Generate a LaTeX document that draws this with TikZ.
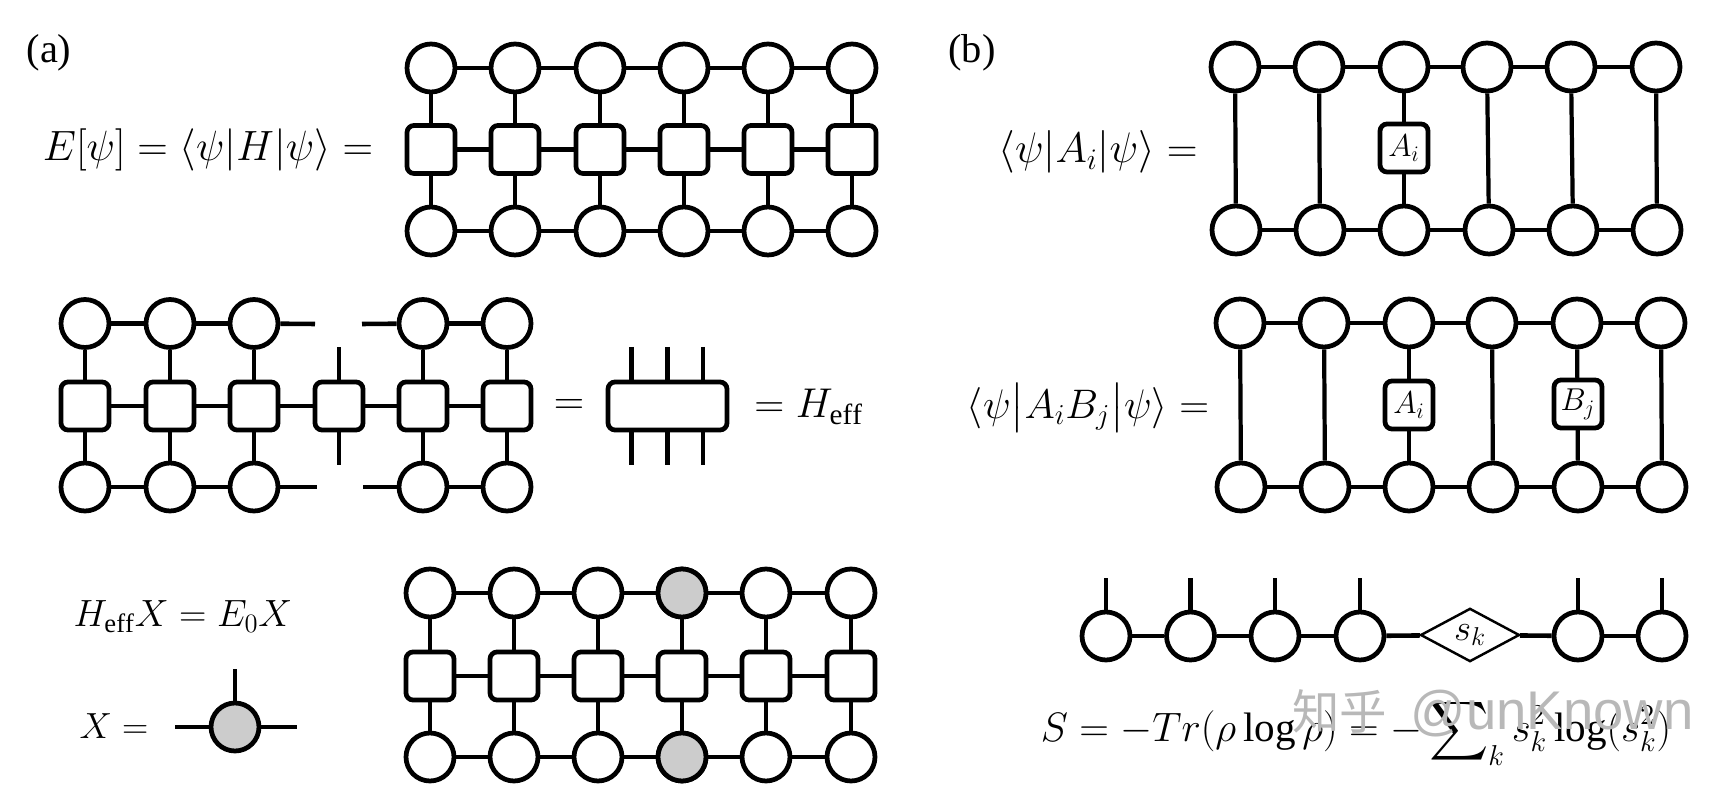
\documentclass[tikz,border=0pt]{standalone}
\usepackage{fix-cm}
\usepackage{amsmath,amssymb}
\usepackage{fontspec}
\usepackage{xcolor}
\usepackage{tikz}
\usetikzlibrary{shapes,positioning}
\setmainfont{Liberation Serif}
\newfontfamily\marksans{Liberation Sans}
\newfontfamily\markcjk{Noto Sans CJK SC}
\definecolor{sitegray}{gray}{0.8}

\begin{document}
\begin{tikzpicture}[
    x=0.02cm, y=-0.02cm,
    site/.style={circle, draw, fill=white, line width=2.7pt, minimum size=0.96cm, inner sep=0pt},
    filled/.style={site, fill=sitegray},
    mpo/.style={rectangle, rounded corners=4pt, draw, fill=white, line width=2.7pt, minimum size=0.96cm, inner sep=0pt, font=\fontsize{18}{20}\selectfont},
    bond/.style={line width=2.6pt},
    leg/.style={line width=2.4pt},
    eqn/.style={font=\fontsize{#1}{30}\selectfont, inner sep=0pt},
    eqn/.default=20.7,
    tag/.style={font=\fontsize{23}{26}\selectfont, inner sep=0pt}
]
\useasboundingbox (0,0) rectangle (1733,786);

\node[tag] (taga) at (49,53) {(a)};
\node[tag] (tagb) at (972,53) {(b)};

% energy network
\foreach \i/\x in {1/431,2/515,3/600,4/684,5/768,6/852} {
    \node[site] (at\i) at (\x,68) {};
    \node[mpo] (am\i) at (\x,149.5) {};
    \node[site] (ab\i) at (\x,231) {};
    \draw[leg] (at\i) -- (am\i);
    \draw[leg] (am\i) -- (ab\i);
}
\foreach \i/\j in {1/2,2/3,3/4,4/5,5/6} {
    \draw[bond] (at\i) -- (at\j);
    \draw[bond] (am\i) -- (am\j);
    \draw[bond] (ab\i) -- (ab\j);
}
\node[eqn=24.1] (energy) at (208,150) {$E[\psi]=\langle\psi|H|\psi\rangle=$};

% effective hamiltonian
\foreach \i/\x in {1/85,2/170,3/254,5/423,6/507} {
    \node[site] (ct\i) at (\x,323.5) {};
    \node[mpo] (cm\i) at (\x,406) {};
    \node[site] (cb\i) at (\x,487) {};
    \draw[leg] (ct\i) -- (cm\i);
    \draw[leg] (cm\i) -- (cb\i);
}
\node[mpo] (cm4) at (339,406) {};
\coordinate (ctl) at (315,324);
\coordinate (ctr) at (362,324);
\coordinate (cbl) at (317,487);
\coordinate (cbr) at (363,487);
\coordinate (cup) at (339,347);
\coordinate (cdn) at (339,465);
\draw[leg] (cm4) -- (cup);
\draw[leg] (cm4) -- (cdn);
\foreach \i/\j in {1/2,2/3,5/6} {
    \draw[bond] (ct\i) -- (ct\j);
    \draw[bond] (cb\i) -- (cb\j);
}
\foreach \i/\j in {1/2,2/3,3/4,4/5,5/6} {
    \draw[bond] (cm\i) -- (cm\j);
}
\draw[bond] (ct3) -- (ctl);
\draw[bond] (ctr) -- (ct5);
\draw[bond] (cb3) -- (cbl);
\draw[bond] (cbr) -- (cb5);
\node[eqn=24] (eqa) at (569,407) {$=$};
\node[mpo, minimum width=2.38cm] (heff) at (667.5,406) {};
\foreach \i/\x in {1/631.5,2/667.5,3/703} {
    \coordinate (hu\i) at (\x,347);
    \coordinate (hd\i) at (\x,465);
    \draw[leg] (hu\i) -- (hu\i |- heff.north);
    \draw[leg] (hd\i) -- (hd\i |- heff.south);
}
\node[eqn=23.7, anchor=west] (eqh) at (754,407) {$=H_{\mathrm{eff}}$};

% ground state network
\foreach \i/\x in {1/430,2/514,3/598,4/682,5/766,6/851} {
    \node[site] (gt\i) at (\x,593) {};
    \node[mpo] (gm\i) at (\x,676) {};
    \node[site] (gb\i) at (\x,757) {};
    \draw[leg] (gt\i) -- (gm\i);
    \draw[leg] (gm\i) -- (gb\i);
}
\node[filled] at (gt4) {};
\node[filled] at (gb4) {};
\foreach \i/\j in {1/2,2/3,3/4,4/5,5/6} {
    \draw[bond] (gt\i) -- (gt\j);
    \draw[bond] (gm\i) -- (gm\j);
    \draw[bond] (gb\i) -- (gb\j);
}
\node[eqn=21.6] (eigen) at (183,617) {$H_{\mathrm{eff}}X=E_0X$};
\node[eqn] (xeq) at (114,726) {$X=$};
\node[filled] (xsite) at (235,727) {};
\coordinate (xl) at (175,727);
\coordinate (xr) at (297,727);
\coordinate (xu) at (235,669);
\draw[bond] (xl) -- (xsite);
\draw[bond] (xsite) -- (xr);
\draw[leg] (xsite) -- (xu);

% one point function
\foreach \i/\x/\y in {1/1235/1236,2/1319/1320,3/1404/1404,4/1487/1489,5/1571/1573,6/1656/1657} {
    \node[site] (pt\i) at (\x,67) {};
    \node[site] (pb\i) at (\y,230) {};
    \draw[leg] (pt\i) -- (pb\i);
}
\foreach \i/\j in {1/2,2/3,3/4,4/5,5/6} {
    \draw[bond] (pt\i) -- (pt\j);
    \draw[bond] (pb\i) -- (pb\j);
}
\node[mpo] (pa) at (1404,148) {$A_i$};
\node[eqn=24.3] (pone) at (1098,152) {$\langle\psi|A_i|\psi\rangle=$};

% two point function
\foreach \i/\x/\y in {1/1240/1241,2/1324/1325,3/1409/1409,4/1492/1493,5/1577/1578,6/1661/1662} {
    \node[site] (qt\i) at (\x,323) {};
    \node[site] (qb\i) at (\y,487) {};
    \draw[leg] (qt\i) -- (qb\i);
}
\foreach \i/\j in {1/2,2/3,3/4,4/5,5/6} {
    \draw[bond] (qt\i) -- (qt\j);
    \draw[bond] (qb\i) -- (qb\j);
}
\node[mpo] (qa) at (1409,405) {$A_i$};
\node[mpo] (qc) at (1578,404) {$B_j$};
\node[eqn=23.5] (ptwo) at (1088,408) {$\langle\psi\bigl|A_iB_j\bigr|\psi\rangle=$};

% entanglement
\foreach \i/\x in {1/1106,2/1190.5,3/1275,4/1360,5/1578,6/1662} {
    \node[site] (st\i) at (\x,636) {};
    \coordinate (su\i) at (\x,578);
    \draw[leg] (st\i) -- (su\i);
}
\node[diamond, draw, fill=white, line width=1.4pt, minimum width=1.98cm, minimum height=0.88cm, inner sep=0pt, font=\fontsize{21}{24}\selectfont] (sk) at (1470,635) {$s_k$};
\foreach \i/\j in {1/2,2/3,3/4,5/6} {
    \draw[bond] (st\i) -- (st\j);
}
\draw[bond] (st4) -- (sk);
\draw[bond] (sk) -- (st5);
\node[eqn=23.4] (entropy) at (1356,732) {$\displaystyle S=-Tr(\rho\log\rho)=-\sum\nolimits_k s_k^2\log(s_k^2)$};

\node[inner sep=0pt, text=black!28, anchor=west, font=\fontsize{27}{30}\selectfont] (mark) at (1292,713) {\markcjk 知乎\hspace{0.5em}\fontsize{31}{32}\selectfont\marksans @unKnown};
\end{tikzpicture}
\end{document}
